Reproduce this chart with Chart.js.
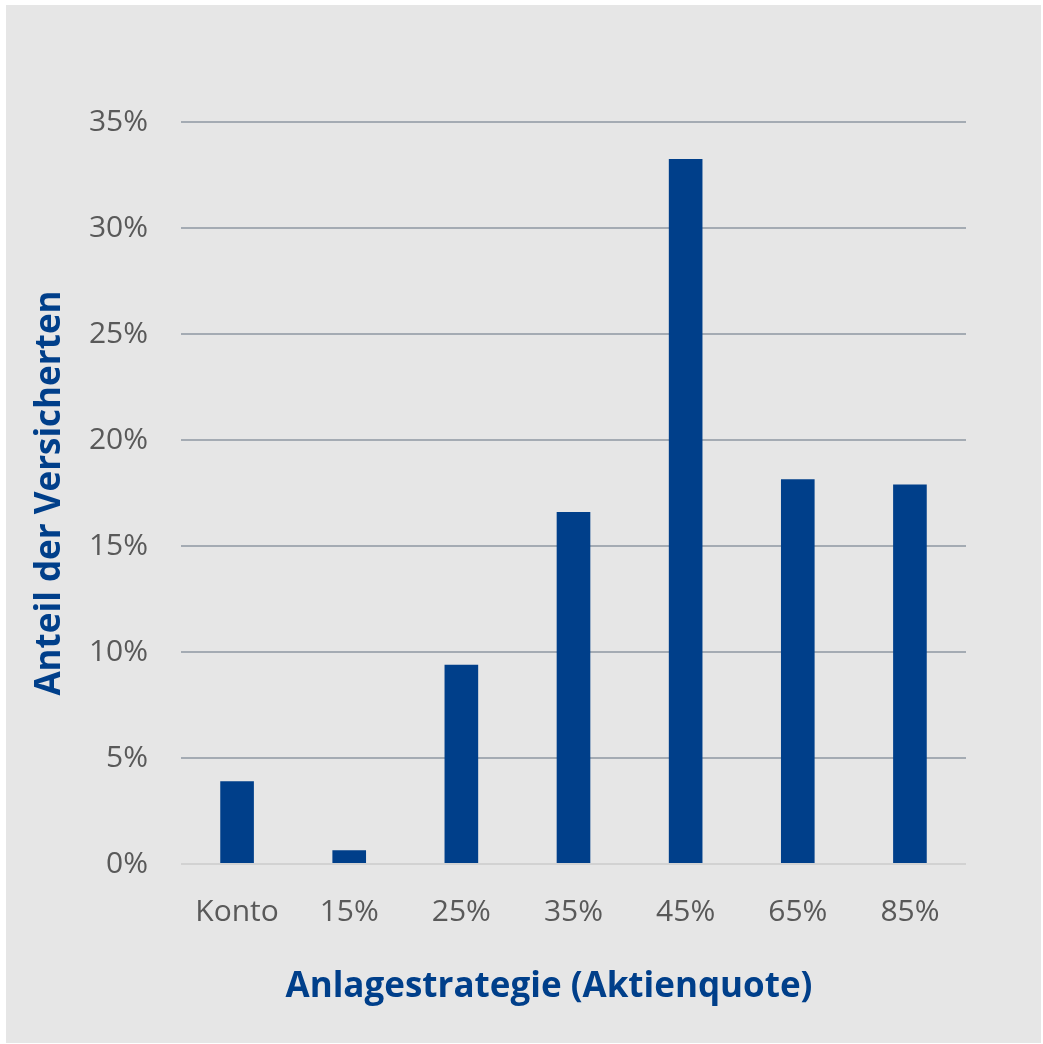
<!DOCTYPE html>
<html>
<head>
<meta charset="utf-8">
<script src="https://cdn.jsdelivr.net/npm/chart.js@4/dist/chart.umd.min.js"></script>
<style>
    html, body { margin: 0; padding: 0; background: #ffffff; }
    #panel {
        position: absolute; left: 6px; top: 5px; right: 2px; bottom: 1px;
        background: #e6e6e6;
    }
    #chart { position: absolute; left: 0; top: 0; }
</style>
</head>
<body>
<div id="panel"></div>
<canvas id="chart" width="1043" height="1044"></canvas>
<script>
// Share of insured persons per investment strategy (equity quota)
const categories = ['Konto', '15%', '25%', '35%', '45%', '65%', '85%'];
const shares = [3.9, 0.65, 9.4, 16.6, 33.25, 18.15, 17.9];
const yTicks = [0, 5, 10, 15, 20, 25, 30, 35];

const BLUE = '#003f8a';
const TICK_GREY = '#595959';
const FONT = '"Open Sans", "Noto Sans", sans-serif';

// x axis title is centred on the whole panel, not on the plot area
const bottomTitle = {
    id: 'bottomTitle',
    afterDraw(chart, args, opts) {
        const ctx = chart.ctx;
        ctx.save();
        ctx.font = 'bold 35px ' + FONT;
        ctx.fillStyle = BLUE;
        ctx.textAlign = 'center';
        ctx.textBaseline = 'middle';
        ctx.fillText(opts.text, opts.x, opts.y);
        ctx.restore();
    }
};

new Chart(document.getElementById('chart'), {
    type: 'bar',
    data: {
        labels: categories,
        datasets: [{
            data: shares,
            backgroundColor: BLUE,
            borderWidth: 0,
            barPercentage: 0.3,
            categoryPercentage: 1.0
        }]
    },
    plugins: [bottomTitle],
    options: {
        responsive: false,
        animation: false,
        devicePixelRatio: 1,
        layout: { padding: { top: 122, right: 77, left: 0, bottom: 0 } },
        plugins: {
            legend: { display: false },
            tooltip: { enabled: false },
            bottomTitle: { text: 'Anlagestrategie (Aktienquote)', x: 549, y: 987 }
        },
        scales: {
            x: {
                grid: { display: false, drawTicks: false },
                border: { display: false },
                ticks: { color: TICK_GREY, font: { family: FONT, size: 30 }, padding: 30 },
                afterFit(scale) { scale.height = 180; }
            },
            y: {
                min: 0,
                max: 35,
                afterBuildTicks(scale) { scale.ticks = yTicks.map(v => ({ value: v })); },
                grid: {
                    drawTicks: false,
                    lineWidth: 2,
                    color: ctx => ctx.tick && ctx.tick.value === 0 ? '#d2d2d2' : '#a4abb3'
                },
                border: { display: false },
                ticks: {
                    color: TICK_GREY,
                    font: { family: FONT, size: 30 },
                    padding: 33,
                    callback: v => v + '%'
                },
                title: {
                    display: true,
                    text: 'Anteil der Versicherten',
                    color: BLUE,
                    font: { family: FONT, size: 35, weight: 'bold' },
                    padding: { top: 29, bottom: 0 }
                },
                afterFit(scale) { scale.width = 181; }
            }
        }
    }
});
</script>
</body>
</html>
